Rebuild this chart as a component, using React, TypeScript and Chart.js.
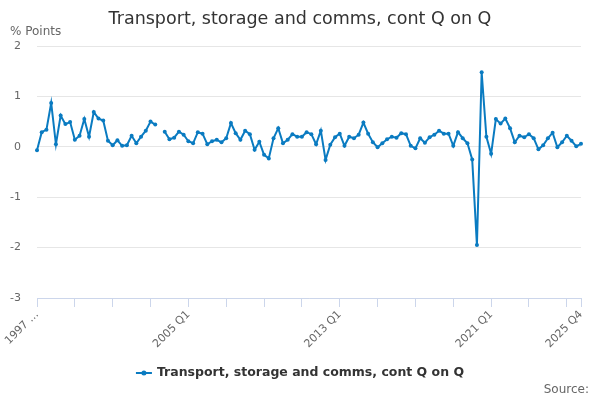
import React, { useEffect, useRef } from "react";
import { Chart, registerables } from "chart.js";

Chart.register(...registerables);

const TITLE = "Transport, storage and comms, cont Q on Q";
const SERIES_NAME = "Transport, storage and comms, cont Q on Q";
const Y_UNIT = "% Points";
const SOURCE = "Source:";

const START_YEAR = 1997;
const END_YEAR = 2025;
const QUARTERS = ["Q1", "Q2", "Q3", "Q4"];
const categories: string[] = [];
for (let y = START_YEAR; y <= END_YEAR; y++) {
  for (const q of QUARTERS) categories.push(`${y} ${q}`);
}

const shownLabels: Record<string, string> = {
  "1997 Q1": "1997 …",
  "2005 Q1": "2005 Q1",
  "2013 Q1": "2013 Q1",
  "2021 Q1": "2021 Q1",
  "2025 Q4": "2025 Q4",
};

const values: (number | null)[] = [
  -0.07, 0.29, 0.34, 0.87, 0.05, 0.62, 0.45, 0.49, 0.14, 0.22,
  0.55, 0.2, 0.69, 0.56, 0.52, 0.12, 0.03, 0.13, 0.02, 0.03,
  0.22, 0.07, 0.2, 0.32, 0.5, 0.44, null, 0.3, 0.15, 0.18,
  0.3, 0.24, 0.11, 0.07, 0.29, 0.26, 0.05, 0.11, 0.14, 0.09,
  0.17, 0.47, 0.27, 0.14, 0.32, 0.25, -0.06, 0.1, -0.16, -0.23,
  0.17, 0.37, 0.07, 0.14, 0.25, 0.2, 0.2, 0.29, 0.25, 0.05,
  0.32, -0.26, 0.04, 0.19, 0.26, 0.02, 0.2, 0.17, 0.24, 0.48,
  0.26, 0.09, -0.01, 0.07, 0.15, 0.2, 0.18, 0.27, 0.25, 0.02,
  -0.03, 0.17, 0.08, 0.19, 0.24, 0.32, 0.26, 0.26, 0.02, 0.29,
  0.17, 0.07, -0.25, -1.95, 1.48, 0.2, -0.14, 0.55, 0.46, 0.56,
  0.37, 0.09, 0.22, 0.19, 0.25, 0.17, -0.05, 0.03, 0.17, 0.28,
  -0.01, 0.09, 0.22, 0.12, 0.01, 0.06,
];

const Y_MIN = -3;
const Y_MAX = 2;

const LINE_COLOR = "#0a7bc1";
const FONT = "'DejaVu Sans', sans-serif";

const textPlugin = {
  id: "textPlugin",
  afterDraw(chart: any) {
    const ctx = chart.ctx as CanvasRenderingContext2D;
    ctx.save();
    // title
    ctx.fillStyle = "#333333";
    ctx.font = `17.5px ${FONT}`;
    ctx.textAlign = "center";
    ctx.textBaseline = "middle";
    ctx.fillText(TITLE, 300, 19);
    // unit
    ctx.fillStyle = "#666666";
    ctx.font = `12px ${FONT}`;
    ctx.textAlign = "left";
    ctx.fillText(Y_UNIT, 10, 32);
    // legend
    ctx.font = `bold 12.5px ${FONT}`;
    const tw = ctx.measureText(SERIES_NAME).width;
    const symW = 16;
    const gap = 5;
    const total = symW + gap + tw;
    const x0 = 300 - total / 2;
    const ly = 373;
    ctx.strokeStyle = LINE_COLOR;
    ctx.lineWidth = 2;
    ctx.beginPath();
    ctx.moveTo(x0, ly);
    ctx.lineTo(x0 + symW, ly);
    ctx.stroke();
    ctx.fillStyle = LINE_COLOR;
    ctx.beginPath();
    ctx.arc(x0 + symW / 2, ly, 2.5, 0, Math.PI * 2);
    ctx.fill();
    ctx.fillStyle = "#333333";
    ctx.textAlign = "left";
    ctx.fillText(SERIES_NAME, x0 + symW + gap, ly);
    // source
    ctx.fillStyle = "#666666";
    ctx.font = `12px ${FONT}`;
    ctx.textAlign = "right";
    ctx.fillText(SOURCE, 589, 390);
    ctx.restore();
  },
};

export default function App() {
  const ref = useRef<HTMLCanvasElement | null>(null);

  useEffect(() => {
    document.body.style.margin = "0";
    const canvas = ref.current;
    if (!canvas) return;
    const chart = new Chart(canvas, {
      type: "line",
      data: {
        labels: categories,
        datasets: [
          {
            label: SERIES_NAME,
            data: values,
            borderColor: LINE_COLOR,
            backgroundColor: LINE_COLOR,
            borderWidth: 2,
            pointRadius: 2,
            pointBorderWidth: 0,
            pointBackgroundColor: LINE_COLOR,
            spanGaps: false,
            tension: 0,
          },
        ],
      },
      options: {
        animation: false,
        responsive: false,
        layout: { padding: { top: 46, right: 19, bottom: 42, left: 0 } },
        plugins: {
          legend: { display: false },
          title: { display: false },
          tooltip: { enabled: false },
        },
        scales: {
          x: {
            type: "category",
            afterFit: (s: any) => {
              s.height = 60;
            },
            border: { display: true, color: "#ccd6eb", width: 1 },
            grid: {
              drawOnChartArea: false,
              drawTicks: true,
              tickLength: 9,
              color: (c: any) =>
                c.index % 8 === 0 || c.index === categories.length - 1
                  ? "#ccd6eb"
                  : "rgba(0,0,0,0)",
            },
            ticks: {
              autoSkip: false,
              maxRotation: 45,
              minRotation: 45,
              padding: 1,
              color: "#666666",
              font: { family: FONT, size: 11 },
              callback: (_v: any, i: number) => shownLabels[categories[i]] ?? "",
            },
          },
          y: {
            min: Y_MIN,
            max: Y_MAX,
            afterFit: (s: any) => {
              s.width = 37;
            },
            border: { display: false },
            grid: { color: "#e6e6e6", drawTicks: false },
            ticks: {
              stepSize: 1,
              padding: 16,
              color: "#666666",
              font: { family: FONT, size: 11 },
            },
          },
        },
      },
      plugins: [textPlugin],
    });
    return () => chart.destroy();
  }, []);

  return (
    <div style={{ width: 600, height: 400 }}>
      <canvas ref={ref} width={600} height={400} style={{ width: 600, height: 400 }} />
    </div>
  );
}
